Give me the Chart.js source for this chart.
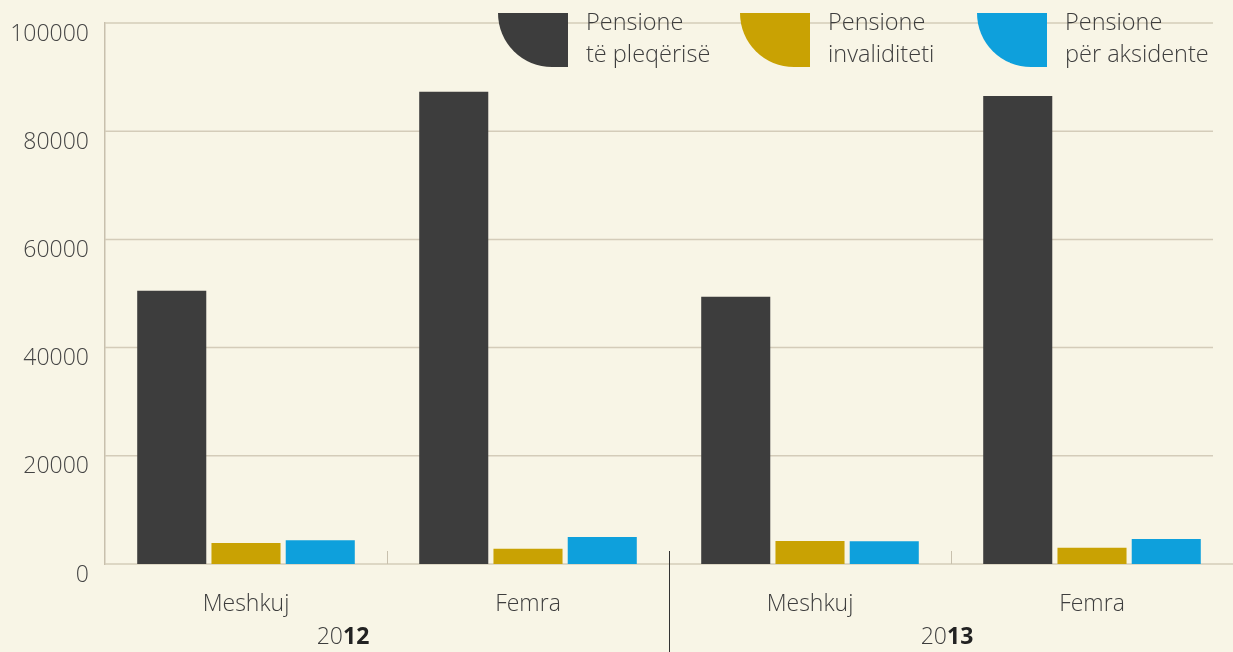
<!DOCTYPE html>
<html>
<head>
<meta charset="utf-8">
<script src="https://cdn.jsdelivr.net/npm/chart.js@4/dist/chart.umd.min.js"></script>
<style>
  body { margin: 0; background: #f8f5e6; }
  #wrap { position: relative; width: 1233px; height: 652px; }
  .leg { position: absolute; top: 13px; height: 54px; }
  .sw { position: absolute; left: 0; top: 0; width: 70px; height: 54px; border-bottom-left-radius: 54px 54px; }
  .lt { position: absolute; left: 88px; top: -8px; font-family: "Open Sans", sans-serif; font-weight: 300;
        font-size: 23.5px; line-height: 32px; color: #3d3d3d; white-space: nowrap; }
</style>
</head>
<body>
<div id="wrap">
  <canvas id="chart" width="1233" height="652"></canvas>
  <div id="legend"></div>
</div>
<script>
var categories = ['Meshkuj', 'Femra', 'Meshkuj', 'Femra'];
var years = [['20', '12'], ['20', '13']];
var pleqerise = [50500, 87300, 49400, 86500];
var invaliditeti = [3900, 2800, 4250, 3000];
var aksidente = [4400, 5000, 4200, 4600];
var seriesNames = [['Pensione', 'të pleqërisë'], ['Pensione', 'invaliditeti'], ['Pensione', 'për aksidente']];
var colors = ['#3d3d3d', '#c9a203', '#0ea0dc'];
var legendX = [498, 740, 977];
var yearLabelX = [343, 947];

var legend = document.getElementById('legend');
for (var i = 0; i < seriesNames.length; i++) {
    var d = document.createElement('div');
    d.className = 'leg';
    d.style.left = legendX[i] + 'px';
    d.innerHTML = '<div class="sw" style="background:' + colors[i] + '"></div>' +
        '<div class="lt">' + seriesNames[i][0] + '<br>' + seriesNames[i][1] + '</div>';
    legend.appendChild(d);
}

var gridlines = {
    id: 'gridlines',
    beforeDatasetsDraw: function(chart) {
        var ctx = chart.ctx, y = chart.scales.y, area = chart.chartArea;
        ctx.save();
        ctx.strokeStyle = '#d4ccb9';
        ctx.lineWidth = 1.5;
        y.ticks.forEach(function(t) {
            var py = y.getPixelForValue(t.value);
            ctx.beginPath();
            ctx.moveTo(area.left, py);
            ctx.lineTo(t.value === 0 ? chart.width : area.right - 20, py);
            ctx.stroke();
        });
        ctx.restore();
    }
};

var extras = {
    id: 'extras',
    afterDraw: function(chart) {
        var ctx = chart.ctx;
        var x = chart.scales.x, y = chart.scales.y;
        var base = y.getPixelForValue(0);
        ctx.save();
        for (var k = 0; k < years.length; k++) {
            var mx = (x.getPixelForValue(2 * k) + x.getPixelForValue(2 * k + 1)) / 2;
            ctx.strokeStyle = '#c8c0ad';
            ctx.lineWidth = 1;
            ctx.beginPath();
            ctx.moveTo(Math.round(mx) + 0.5, base - 13);
            ctx.lineTo(Math.round(mx) + 0.5, base);
            ctx.stroke();
            // year label, "20" light and the last two digits bold
            ctx.textBaseline = 'middle';
            ctx.font = '300 23px "Open Sans"';
            var w1 = ctx.measureText(years[k][0]).width;
            ctx.font = 'bold 23px "Open Sans"';
            var w2 = ctx.measureText(years[k][1]).width;
            var sx = yearLabelX[k] - (w1 + w2) / 2;
            ctx.textAlign = 'left';
            ctx.fillStyle = '#3d3d3d';
            ctx.font = '300 23px "Open Sans"';
            ctx.fillText(years[k][0], sx, 637);
            ctx.fillStyle = '#222';
            ctx.font = 'bold 23px "Open Sans"';
            ctx.fillText(years[k][1], sx + w1, 637);
        }
        // separator between the years
        var sep = (x.getPixelForValue(1) + x.getPixelForValue(2)) / 2;
        ctx.strokeStyle = '#333';
        ctx.lineWidth = 1;
        ctx.beginPath();
        ctx.moveTo(Math.round(sep) + 0.5, base - 13);
        ctx.lineTo(Math.round(sep) + 0.5, chart.height);
        ctx.stroke();
        ctx.restore();
    }
};

var ctx = document.getElementById('chart').getContext('2d');
var chart = new Chart(ctx, {
    type: 'bar',
    data: {
        labels: categories,
        datasets: [
            { label: seriesNames[0].join(' '), data: pleqerise, backgroundColor: colors[0] },
            { label: seriesNames[1].join(' '), data: invaliditeti, backgroundColor: colors[1] },
            { label: seriesNames[2].join(' '), data: aksidente, backgroundColor: colors[2] }
        ]
    },
    options: {
        responsive: false,
        animation: false,
        devicePixelRatio: 1,
        layout: { padding: { top: 23, right: 0, left: 0, bottom: 0 } },
        datasets: { bar: { categoryPercentage: 0.79, barPercentage: 0.93 } },
        plugins: { legend: { display: false }, tooltip: { enabled: false } },
        scales: {
            x: {
                grid: { display: false, drawTicks: false },
                border: { display: false },
                ticks: { color: '#3d3d3d', font: { family: 'Open Sans', size: 23, weight: 300 }, padding: 27 },
                afterFit: function(s) { s.height = 88; s.paddingLeft = 0; s.paddingRight = 0; }
            },
            y: {
                min: 0, max: 100000,
                afterFit: function(s) { s.width = 105; s.paddingTop = 0; s.paddingBottom = 0; },
                grid: { display: false, drawTicks: false },
                border: { color: '#c8c0ad', width: 1.5 },
                ticks: {
                    stepSize: 20000, color: '#444', padding: 16, labelOffset: 11,
                    font: { family: 'Open Sans', size: 23, weight: 300 },
                    callback: function(v) { return String(v); }
                }
            }
        }
    },
    plugins: [gridlines, extras]
});
</script>
</body>
</html>
